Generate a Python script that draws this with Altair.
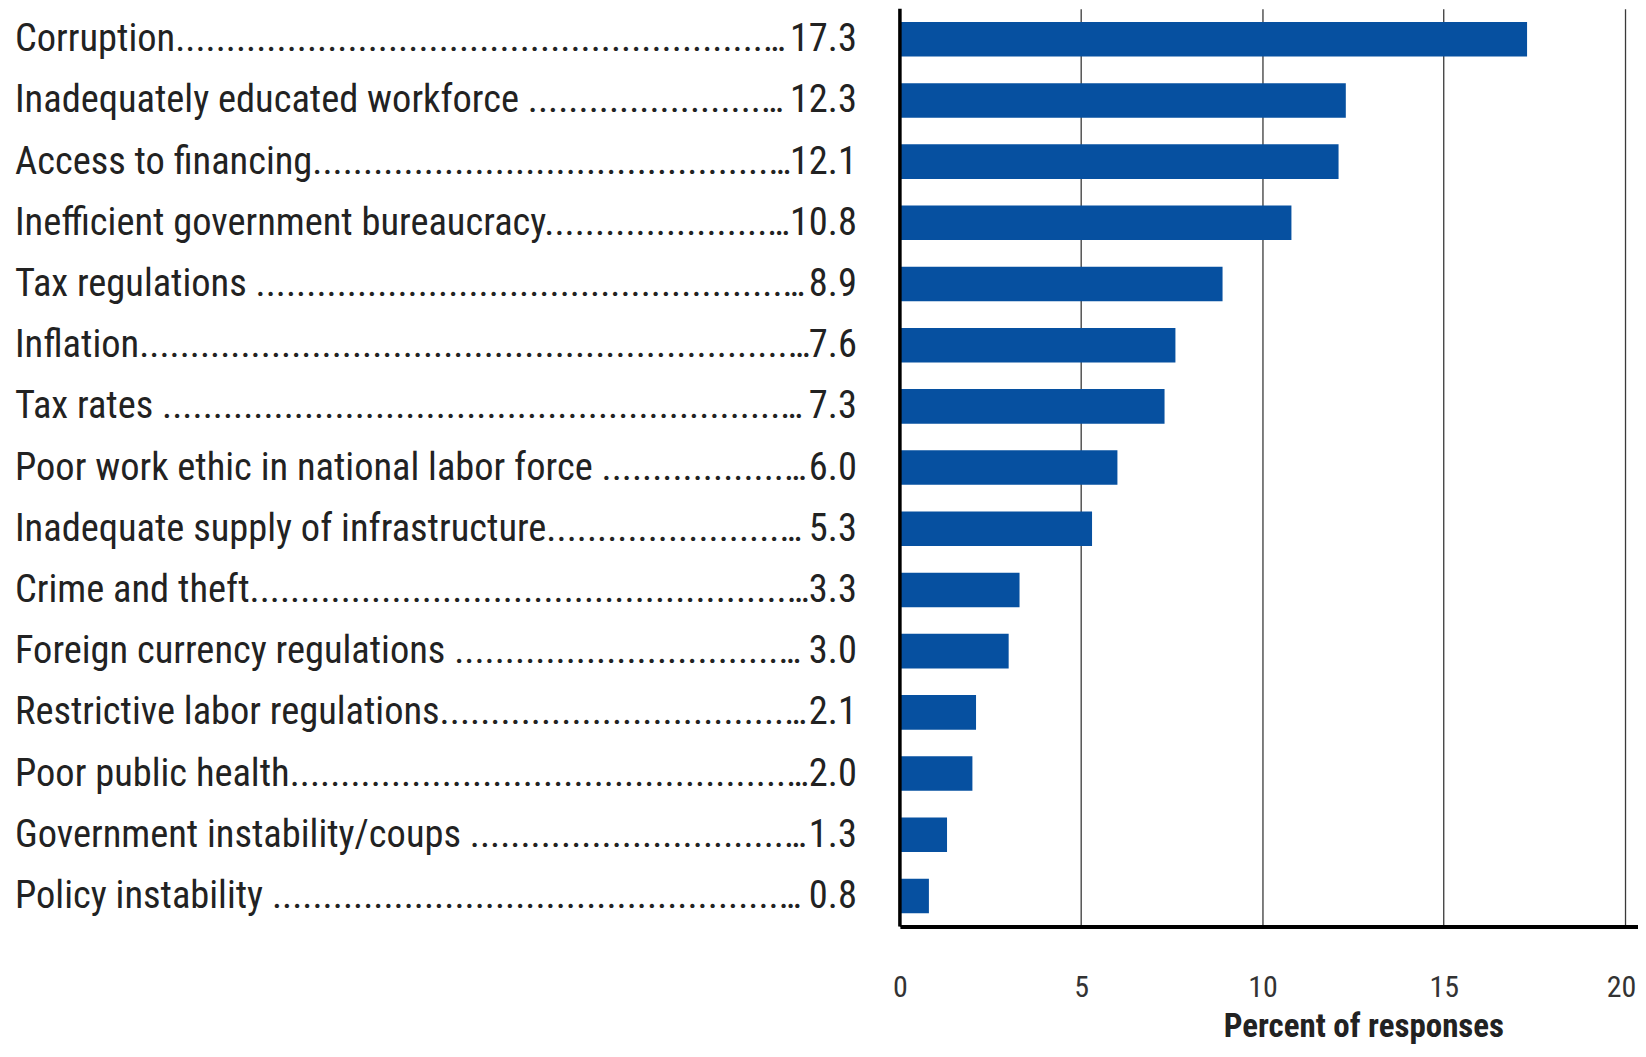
import altair as alt
import pandas as pd

categories = [
    "Corruption",
    "Inadequately educated workforce",
    "Access to financing",
    "Inefficient government bureaucracy",
    "Tax regulations",
    "Inflation",
    "Tax rates",
    "Poor work ethic in national labor force",
    "Inadequate supply of infrastructure",
    "Crime and theft",
    "Foreign currency regulations",
    "Restrictive labor regulations",
    "Poor public health",
    "Government instability/coups",
    "Policy instability",
]
values = [17.3, 12.3, 12.1, 10.8, 8.9, 7.6, 7.3, 6.0, 5.3, 3.3, 3.0, 2.1, 2.0, 1.3, 0.8]
leader_space = [False, True, False, False, True, False, True, True, False, False, True, False, False, True, True]
x_ticks = [0, 5, 10, 15, 20]

df = pd.DataFrame({"cat": categories, "value": values})
df["leader"] = [c + (" " if s else "") + "." * 220 for c, s in zip(categories, leader_space)]
df["big"] = df["value"] >= 10

W = 1632
H = 919
FONT = "Roboto Condensed, Liberation Sans Narrow, DejaVu Sans Condensed, sans-serif"
FS = 38.5
BLUE = "#0650a0"

yenc = alt.Y(
    "cat:N",
    sort=categories,
    axis=None,
    scale=alt.Scale(paddingInner=0.435, paddingOuter=0.2175),
)

base = alt.Chart(df)

bars = base.mark_bar(color=BLUE).encode(
    x=alt.X(
        "value:Q",
        scale=alt.Scale(domain=[0, 20.36], range=[893, W], nice=False, zero=True),
        axis=alt.Axis(
            values=x_ticks,
            format="d",
            grid=True,
            gridColor="#3a3a3a",
            gridWidth=1.3,
            domain=True,
            domainColor="#000000",
            domainWidth=4,
            ticks=False,
            labelPadding=70,
            labelBaseline="alphabetic",
            labelFont=FONT,
            labelFontSize=30,
            labelColor="#333333",
            labelFlush=False,
            labelOffset={"condition": {"test": "datum.value == 20", "value": -4}, "value": 0},
            title="Percent of responses",
            titleFont=FONT,
            titleFontSize=33,
            titleFontWeight="bold",
            titleColor="#222222",
            titleX=1357,
            titleY=110,
            titleAlign="center",
            titleBaseline="alphabetic",
        ),
    ),
    y=yenc,
)

left_rule = alt.Chart(pd.DataFrame({"z": [0]})).mark_rule(
    color="#000000", strokeWidth=3.5
).encode(x="z:Q", y=alt.value(0), y2=alt.value(H))

lab_big = base.transform_filter("datum.big").mark_text(
    align="left", baseline="middle", font=FONT, fontSize=FS, color="#222222",
    limit=779, ellipsis="",
).encode(x=alt.value(7), y=yenc, text="leader:N")

lab_small = base.transform_filter("!datum.big").mark_text(
    align="left", baseline="middle", font=FONT, fontSize=FS, color="#222222",
    limit=797, ellipsis="",
).encode(x=alt.value(7), y=yenc, text="leader:N")

vals = base.mark_text(
    align="right", baseline="middle", font=FONT, fontSize=FS, color="#222222",
).encode(x=alt.value(850), y=yenc, text=alt.Text("value:Q", format=".1f"))

chart = alt.layer(bars, left_rule, lab_big, lab_small, vals).properties(
    width=W,
    height=H,
    autosize=alt.AutoSizeParams(type="none"),
    padding={"left": 0, "top": 0, "right": 0, "bottom": 118},
    view=alt.ViewBackground(strokeWidth=0, strokeOpacity=0, fill="white"),
).configure_view(strokeWidth=0, strokeOpacity=0).configure(background="white")

chart.save("out.html", embed_options={"renderer": "svg", "actions": False})
